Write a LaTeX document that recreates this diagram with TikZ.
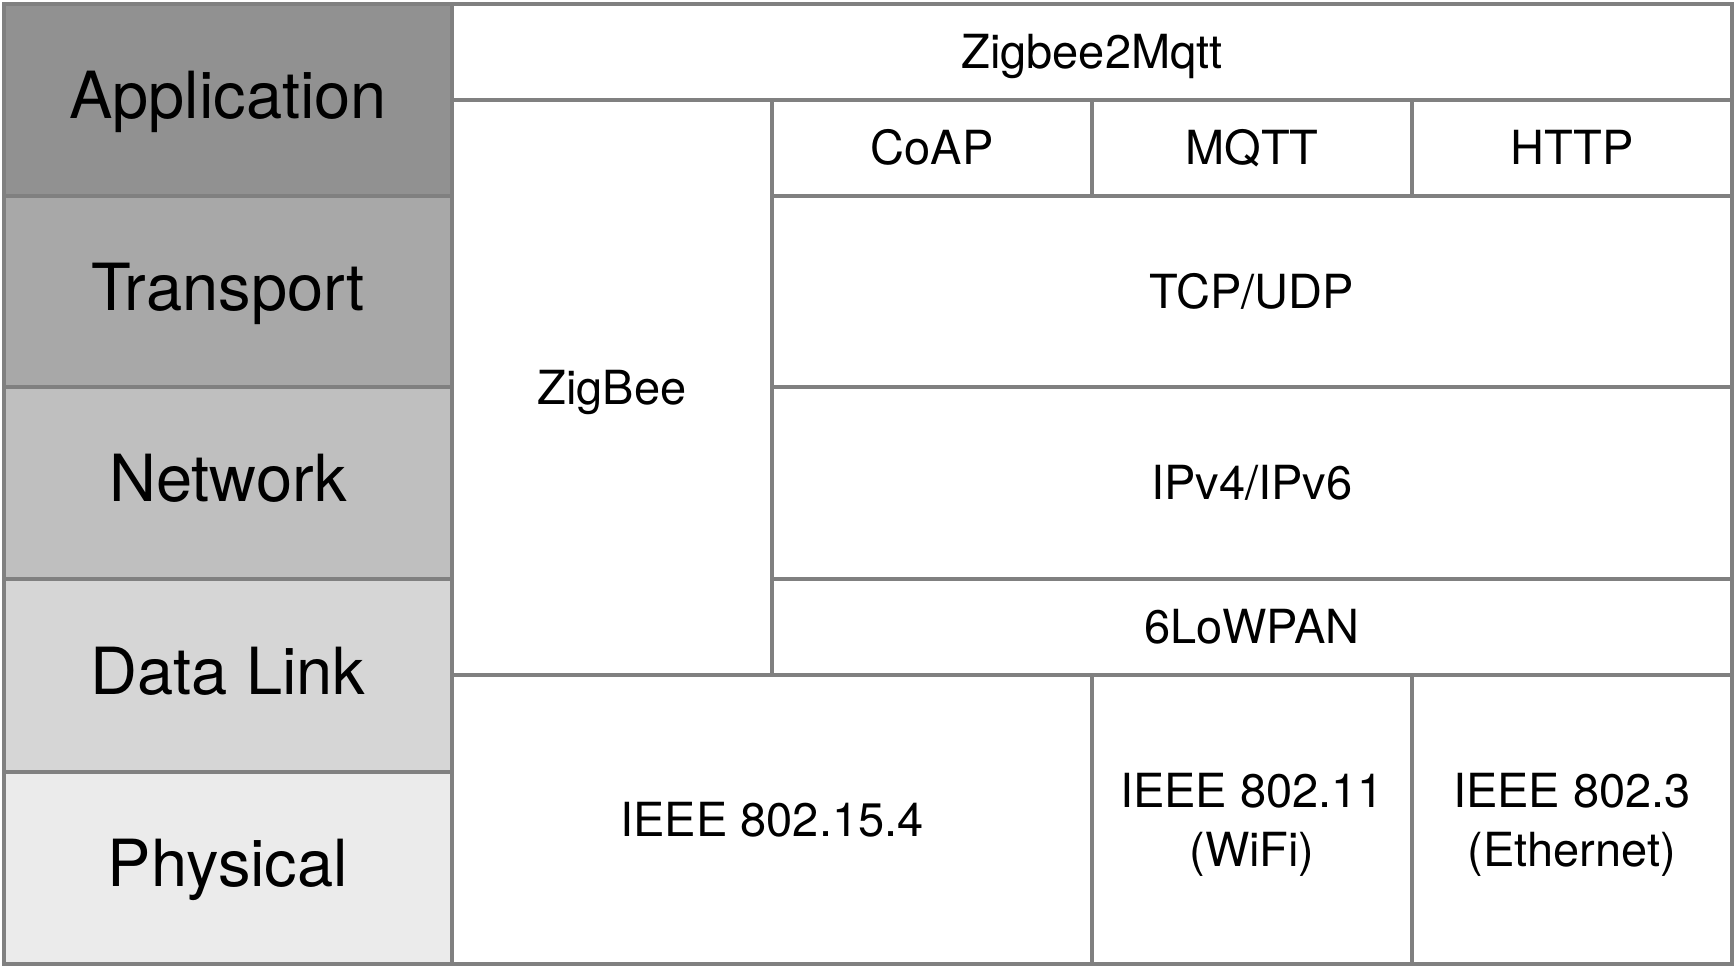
\documentclass[tikz,border=0pt]{standalone}
\usepackage{fontspec}
\setmainfont{TeX Gyre Heros}
\definecolor{linegray}{HTML}{808080}
\definecolor{appgray}{HTML}{919191}
\definecolor{transgray}{HTML}{A8A8A8}
\definecolor{netgray}{HTML}{BFBFBF}
\definecolor{linkgray}{HTML}{D6D6D6}
\definecolor{physgray}{HTML}{EBEBEB}
\begin{document}
\begin{tikzpicture}[x=1pt,y=-1pt,
  cell/.style={rectangle, draw=linegray, line width=4pt, inner sep=0pt, outer sep=0pt},
  layer/.style={cell, font=\fontsize{65}{78}\selectfont, text height=47pt, text depth=10pt},
  proto/.style={cell, fill=white, font=\fontsize{47}{59}\selectfont, text height=34pt, text depth=1pt},
  protoii/.style={proto, align=center, text height=93pt, text depth=0pt}]
\useasboundingbox (0,0) rectangle (1736,968);

% OSI layer column
\node[layer, fill=appgray,   minimum width=448pt, minimum height=192pt] (app)   at (228,100)   {Application};
\node[layer, fill=transgray, minimum width=448pt, minimum height=191pt] (trans) at (228,291.5) {Transport};
\node[layer, fill=netgray,   minimum width=448pt, minimum height=192pt] (net)   at (228,483)   {Network};
\node[layer, fill=linkgray,  minimum width=448pt, minimum height=193pt] (link)  at (228,675.5) {Data Link};
\node[layer, fill=physgray,  minimum width=448pt, minimum height=192pt] (phys)  at (228,868)   {Physical};

% protocol stacks
\node[proto, minimum width=1280pt, minimum height=96pt]  (z2m)    at (1092,52)    {Zigbee2Mqtt};
\node[proto, minimum width=320pt,  minimum height=575pt] (zigbee) at (612,387.5)  {ZigBee};
\node[proto, minimum width=320pt,  minimum height=96pt]  (coap)   at (932,148)    {CoAP};
\node[proto, minimum width=320pt,  minimum height=96pt]  (mqtt)   at (1252,148)   {MQTT};
\node[proto, minimum width=320pt,  minimum height=96pt]  (http)   at (1572,148)   {HTTP};
\node[proto, minimum width=960pt,  minimum height=191pt] (tcp)    at (1252,291.5) {TCP/UDP};
\node[proto, minimum width=960pt,  minimum height=192pt] (ip)     at (1252,483)   {IPv4/IPv6};
\node[proto, minimum width=960pt,  minimum height=96pt]  (lowpan) at (1252,627)   {6LoWPAN};
\node[proto, minimum width=640pt,  minimum height=289pt] (ieee154) at (772,819.5)  {IEEE 802.15.4};
\node[protoii, minimum width=320pt, minimum height=289pt] (wifi)   at (1252,819.5) {IEEE 802.11\\(WiFi)};
\node[protoii, minimum width=320pt, minimum height=289pt] (eth)    at (1572,819.5) {IEEE 802.3\\(Ethernet)};
\end{tikzpicture}
\end{document}
